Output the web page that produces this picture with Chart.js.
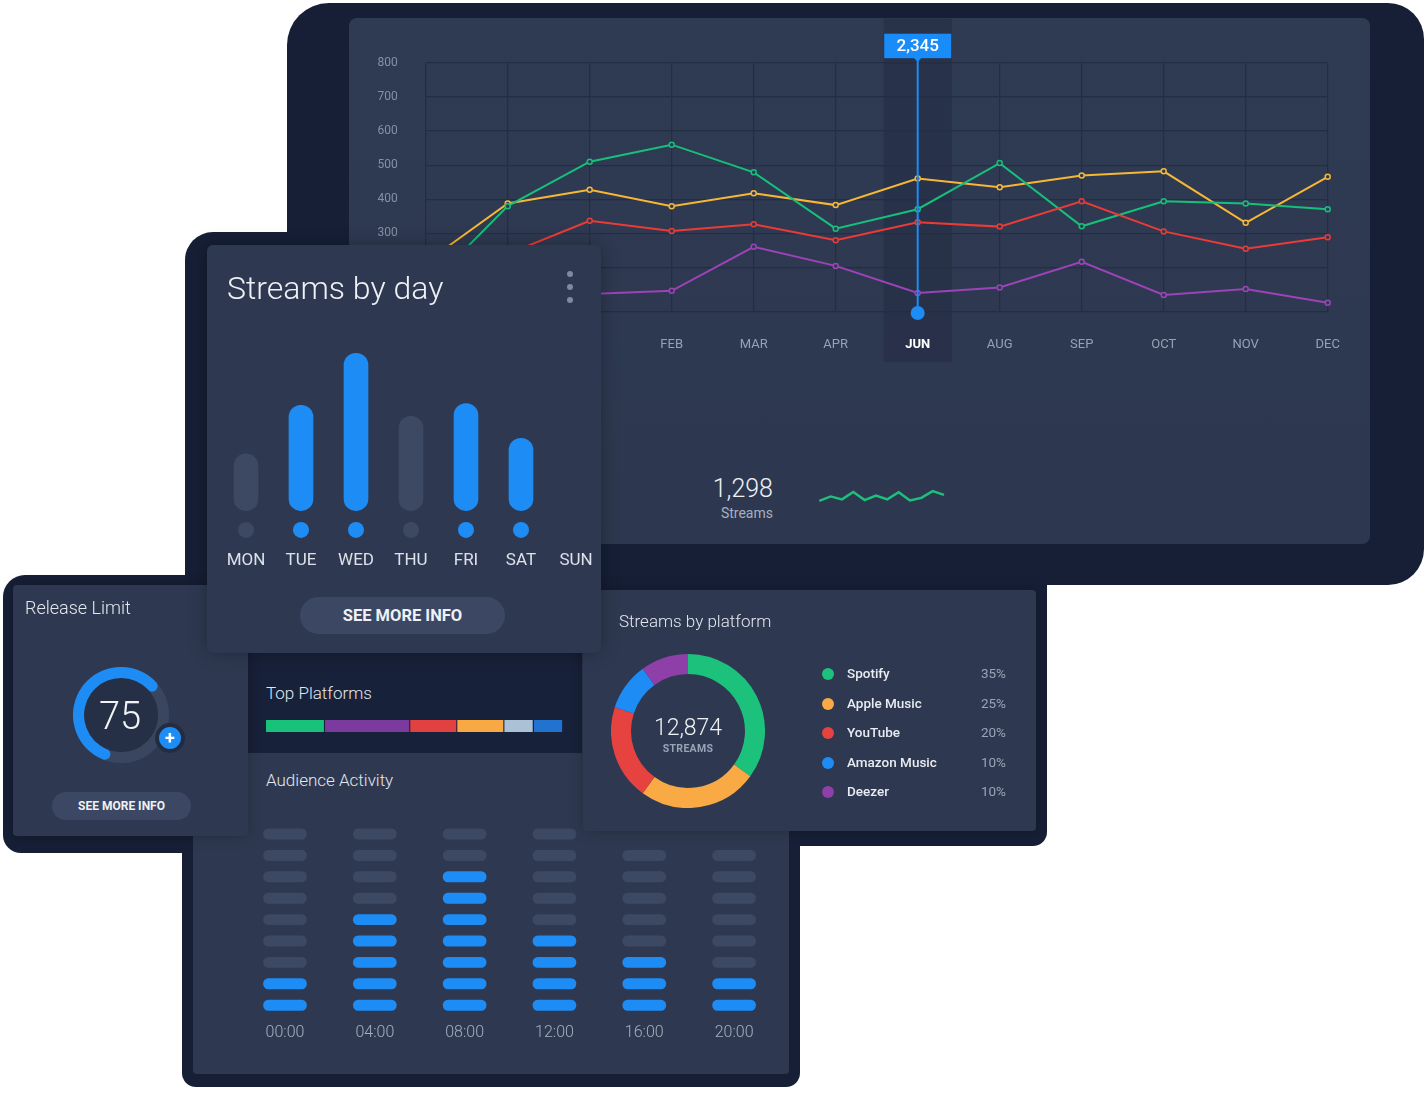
<!DOCTYPE html>
<html><head><meta charset="utf-8">
<script src="https://cdn.jsdelivr.net/npm/chart.js@4.4.1/dist/chart.umd.min.js"></script>
<style>
html,body{margin:0;padding:0;background:#fff;width:1424px;height:1105px;overflow:hidden;font-family:Roboto,"Open Sans",sans-serif;}
.dark{position:absolute;background:#161f36;z-index:0;}
.card{position:absolute;background:#2e3951;}
.t{position:absolute;white-space:nowrap;color:#e3e7ee;font-weight:300;line-height:1;transform:translateY(-50%);}
.btn{position:absolute;background:#3c4863;color:#eef1f5;font-weight:700;display:flex;align-items:center;justify-content:center;}
canvas{position:absolute;}
</style></head><body>

<!-- dark backdrop -->
<div class="dark" style="left:287px;top:3px;width:1137px;height:582px;border-radius:42px 36px 36px 0;"></div>
<div class="dark" style="left:185px;top:232px;width:500px;height:370px;border-radius:28px 0 0 0;"></div>
<div class="dark" style="left:3px;top:575px;width:260px;height:278px;border-radius:22px 0 0 18px;"></div>
<div class="dark" style="left:182px;top:600px;width:618px;height:487px;border-radius:0 0 14px 14px;"></div>
<div class="dark" style="left:560px;top:560px;width:487px;height:286px;border-radius:0 0 14px 0;"></div>

<!-- P1 top chart panel -->
<div class="card" style="left:349px;top:18px;width:1021px;height:526px;border-radius:8px;z-index:1;background:linear-gradient(180deg,#2f3a53,#2d3850);"></div>
<canvas id="lineChart" width="1021" height="344" style="left:349px;top:18px;width:1021px;height:344px;z-index:2;"></canvas>
<div class="t" style="right:651px;top:488px;font-size:25px;color:#eef1f5;z-index:2;">1,298</div>
<div class="t" style="right:651px;top:513px;font-size:14px;font-weight:400;color:#a7afbf;z-index:2;">Streams</div>
<canvas id="spark" width="129" height="27" style="left:817px;top:482px;width:129px;height:27px;z-index:2;"></canvas>

<!-- P4 audience activity -->
<div class="card" style="left:193px;top:653px;width:596px;height:421px;border-radius:4px;z-index:3;"></div>
<div class="t" style="left:266px;top:780px;font-size:17px;z-index:4;">Audience Activity</div>
<canvas id="audience" width="560" height="243" style="left:230px;top:810px;width:560px;height:243px;z-index:4;"></canvas>

<!-- P5 top platforms -->
<div class="card" style="left:248px;top:653px;width:334px;height:100px;background:#18213a;z-index:5;"></div>
<div class="t" style="left:266px;top:693px;font-size:17px;z-index:6;">Top Platforms</div>
<canvas id="topPlat" width="297" height="12" style="left:266px;top:720px;width:297px;height:12px;z-index:6;"></canvas>

<!-- P6 streams by platform -->
<div class="card" style="left:583px;top:590px;width:453px;height:241px;border-radius:4px;z-index:7;box-shadow:0 0 14px rgba(0,0,0,0.25);"></div>
<div class="t" style="left:619px;top:621px;font-size:17px;z-index:8;">Streams by platform</div>
<canvas id="donut" width="154" height="154" style="left:611px;top:654px;width:154px;height:154px;z-index:8;"></canvas>
<div class="t" style="left:588px;width:200px;text-align:center;top:727px;font-size:23px;color:#eef1f5;z-index:8;">12,874</div>
<div class="t" style="left:588px;width:200px;text-align:center;top:749px;font-size:10.5px;font-weight:700;color:#9aa3b6;letter-spacing:0.3px;z-index:8;">STREAMS</div>
<div id="legend"></div>

<!-- P3 release limit -->
<div class="card" style="left:13px;top:585px;width:235px;height:251px;border-radius:4px;z-index:9;box-shadow:0 0 14px rgba(0,0,0,0.25);"></div>
<div class="t" style="left:25px;top:608px;font-size:18px;z-index:10;">Release Limit</div>
<div style="position:absolute;left:73px;top:667px;width:74px;height:74px;border:11px solid #3a4660;border-radius:50%;z-index:10;"></div>
<div style="position:absolute;left:84px;top:678px;width:74px;height:74px;background:#252f45;border-radius:50%;z-index:10;"></div>
<canvas id="gauge" width="96" height="96" style="left:73px;top:667px;width:96px;height:96px;z-index:10;"></canvas>
<div class="t" style="left:70px;width:100px;text-align:center;top:716px;font-size:38px;color:#f1f3f7;z-index:10;">75</div>
<div style="position:absolute;left:155px;top:723px;width:22px;height:22px;border:4px solid #232c41;border-radius:50%;background:#1e8cf5;z-index:10;color:#fff;font-weight:700;font-size:18px;line-height:22px;text-align:center;">+</div>
<div class="btn" style="left:52px;top:792px;width:139px;height:28px;border-radius:14px;font-size:12px;z-index:10;">SEE MORE INFO</div>

<!-- P2 streams by day -->
<div class="card" style="left:207px;top:245px;width:394px;height:408px;border-radius:6px;z-index:11;box-shadow:0 0 18px rgba(0,0,0,0.3);"></div>
<div class="t" style="left:227px;top:288px;font-size:32px;color:#eef1f5;z-index:12;">Streams by day</div>
<div style="position:absolute;left:567px;top:271px;width:6px;height:6px;border-radius:50%;background:#7d8aa0;z-index:12;"></div>
<div style="position:absolute;left:567px;top:284px;width:6px;height:6px;border-radius:50%;background:#7d8aa0;z-index:12;"></div>
<div style="position:absolute;left:567px;top:297px;width:6px;height:6px;border-radius:50%;background:#7d8aa0;z-index:12;"></div>
<canvas id="days" width="430" height="262" style="left:200px;top:320px;width:430px;height:262px;z-index:12;"></canvas>
<div class="btn" style="left:300px;top:597px;width:205px;height:37px;border-radius:19px;font-size:16.5px;z-index:12;">SEE MORE INFO</div>

<script>
// ---------- data ----------
const months = ['NOV','DEC','JAN','FEB','MAR','APR','JUN','AUG','SEP','OCT','NOV','DEC'];
const spotifyMonthly = [137, 380, 510, 560, 479, 314, 371, 506, 321, 394, 388, 371];
const appleMonthly   = [215, 388, 428, 380, 418, 383, 461, 435, 470, 482, 331, 466];
const youtubeMonthly = [200, 240, 337, 307, 327, 280, 333, 320, 394, 306, 255, 289];
const deezerMonthly  = [110, 115, 123, 132, 261, 205, 126, 142, 217, 120, 137, 97];
const highlightIndex = 6;
const highlightLabel = '2,345';

const sparkValues = [13.3, 23.3, 16.7, 33.3, 15, 25.3, 16.7, 32.7, 14.3, 20, 35.3, 26.7];

const dayLabels = ['MON','TUE','WED','THU','FRI','SAT','SUN'];
const dayValues = [36, 67, 100, 60, 68, 46, null];
const dayActive = [false, true, true, false, true, true, false];

const gaugeArc = [61, 39];

const topShares = [20, 29, 16, 16, 10, 10];
const topColors = ['#19c27b','#7b3a9e','#e24141','#f8a943','#aac1d6','#2272d0'];

const hourLabels = ['00:00','04:00','08:00','12:00','16:00','20:00'];
const hourLevels = [9, 9, 9, 9, 8, 8];
const hourActive = [2, 5, 7, 4, 3, 2];

const platforms = ['Spotify','Apple Music','YouTube','Amazon Music','Deezer'];
const platformShares = [35, 25, 20, 10, 10];
const platformColors = ['#1cc27c','#f9aa45','#e64240','#1e8cf5','#8e3fa8'];

// ---------- styles ----------
const BLUE = '#1e8cf5', GREY = '#3d4963';
const base = {responsive:false, animation:false, events:[], plugins:{legend:{display:false}, tooltip:{enabled:false}}};

// ---------- top line chart ----------
const hl = {
  id:'hl',
  beforeDraw(chart){
    const {ctx, chartArea:a, scales:{x}} = chart;
    const px = x.getPixelForValue(highlightIndex);
    ctx.save(); ctx.fillStyle = 'rgba(18,24,40,0.22)';
    ctx.fillRect(px-34, a.top-44, 68, a.bottom-a.top+94); ctx.restore();
  },
  afterDatasetsDraw(chart){
    const {ctx, chartArea:a, scales:{x}} = chart;
    const px = x.getPixelForValue(highlightIndex);
    ctx.save();
    ctx.strokeStyle = BLUE; ctx.lineWidth = 2;
    ctx.beginPath(); ctx.moveTo(px, a.top-5); ctx.lineTo(px, a.bottom); ctx.stroke();
    ctx.fillStyle = BLUE; ctx.beginPath(); ctx.arc(px, a.bottom+1, 7, 0, Math.PI*2); ctx.fill();
    ctx.fillStyle = '#1a8cf9';
    ctx.fillRect(px-33.5, a.top-29, 67, 24.5);
    ctx.beginPath(); ctx.moveTo(px-4, a.top-5); ctx.lineTo(px+4, a.top-5); ctx.lineTo(px, a.top-1); ctx.fill();
    ctx.fillStyle = '#ffffff'; ctx.font = '500 17px Roboto'; ctx.textAlign = 'center'; ctx.textBaseline = 'middle';
    ctx.fillText(highlightLabel, px, a.top-16);
    ctx.restore();
  }
};
function lineDs(data, color){
  return {data, borderColor:color, borderWidth:2, tension:0, pointRadius:2.5, pointBorderWidth:1.5,
          pointBackgroundColor:'#2e3951', pointBorderColor:color};
}
new Chart(document.getElementById('lineChart'), {
  type:'line',
  data:{labels:months, datasets:[
    lineDs(deezerMonthly,'#9c43b8'),
    lineDs(youtubeMonthly,'#ea3b36'),
    lineDs(spotifyMonthly,'#16c07a'),
    lineDs(appleMonthly,'#f7b733')
  ]},
  options:{...base,
    layout:{padding:{left:16.7, right:42.3, top:44.7, bottom:0}},
    scales:{
      x:{grid:{color:'#242e43', lineWidth:1.2, drawTicks:false}, border:{display:false},
         ticks:{padding:25, autoSkip:false, maxRotation:0,
                color:c=>c.index===highlightIndex?'#ffffff':'#98a1b4',
                font:c=>({size:13, weight:c.index===highlightIndex?'bold':'normal', family:'Roboto'})},
         afterFit(s){s.height=50;}},
      y:{min:70, max:800, grid:{color:'#242e43', lineWidth:1.2, drawTicks:false}, border:{display:false},
         ticks:{stepSize:100, padding:28, color:'#8690a5', font:{size:12, family:'Roboto'}},
         afterBuildTicks(s){s.ticks = s.ticks.filter(t=>t.value!==100);},
         afterFit(s){s.width=60;}}
    }
  },
  plugins:[hl]
});

// ---------- sparkline ----------
new Chart(document.getElementById('spark'), {
  type:'line',
  data:{labels:sparkValues.map((_,i)=>i), datasets:[{data:sparkValues, borderColor:'#1cc27c', borderWidth:2.4, pointRadius:0, tension:0}]},
  options:{...base, layout:{padding:{left:2.3,right:2,top:2.7,bottom:2.3}}, scales:{x:{display:false}, y:{display:false}}}
});

// ---------- streams by day ----------
const dotLevel = -12.3;
new Chart(document.getElementById('days'), {
  data:{labels:dayLabels, datasets:[
    {type:'line', data:dayValues.map(v=>v==null?null:dotLevel), showLine:false, pointRadius:8, pointBorderWidth:0,
     pointBackgroundColor:dayActive.map(a=>a?BLUE:GREY), order:0},
    {type:'bar', data:dayValues, backgroundColor:dayActive.map(a=>a?BLUE:GREY), borderRadius:12, borderSkipped:false, barThickness:24, order:1}
  ]},
  options:{...base,
    layout:{padding:{left:18.5, right:26.5, top:17.6, bottom:0}},
    scales:{
      x:{grid:{display:false, drawTicks:false}, border:{display:false}, ticks:{color:'#dde1e9', font:{size:17, family:'Roboto'}, padding:9, autoSkip:false, maxRotation:0},
         afterFit(s){s.height=40;}},
      y:{display:false, min:-20, max:110}
    }
  }
});

// ---------- gauge ----------
new Chart(document.getElementById('gauge'), {
  type:'doughnut',
  data:{datasets:[{data:gaugeArc, backgroundColor:[BLUE,'rgba(0,0,0,0)'], borderWidth:0, borderRadius:[6,0]}]},
  options:{...base, rotation:195, cutout:'77%'}
});

// ---------- top platforms ----------
const topSum = topShares.reduce((a,b)=>a+b,0);
new Chart(document.getElementById('topPlat'), {
  type:'bar',
  data:{labels:[''], datasets:topShares.map((v,i)=>({data:[v], backgroundColor:topColors[i], borderColor:'#18213a',
        borderWidth:{right:1.2,left:0,top:0,bottom:0}, borderSkipped:false, barPercentage:1, categoryPercentage:1}))},
  options:{...base, indexAxis:'y', layout:{padding:0},
    scales:{x:{stacked:true, display:false, min:0, max:topSum}, y:{stacked:true, display:false}}}
});

// ---------- audience activity ----------
const maxLevels = Math.max(...hourLevels);
const audDatasets = [];
for (let r = 0; r < maxLevels; r++) {
  audDatasets.push({
    data: hourLabels.map((_,c)=> r < hourLevels[c] ? [r-0.24, r+0.24] : null),
    backgroundColor: hourLabels.map((_,c)=> r < hourActive[c] ? BLUE : GREY),
    borderRadius:6, borderSkipped:false, barThickness:43, grouped:false
  });
}
new Chart(document.getElementById('audience'), {
  type:'bar',
  data:{labels:hourLabels, datasets:audDatasets},
  options:{...base,
    layout:{padding:{left:10.1, right:11, top:11.2, bottom:0}},
    scales:{
      x:{grid:{display:false, drawTicks:false}, border:{display:false}, ticks:{color:'#a6aebe', font:{size:16, family:'Roboto', weight:'300'}, padding:5},
         afterFit(s){s.height=35;}},
      y:{display:false, min:-0.6, max:8.6}
    }
  }
});

// ---------- streams by platform ----------
new Chart(document.getElementById('donut'), {
  type:'doughnut',
  data:{labels:platforms, datasets:[{data:platformShares, backgroundColor:platformColors, borderWidth:0}]},
  options:{...base, cutout:'74%'}
});
const legend = document.getElementById('legend');
platforms.forEach((p,i)=>{
  const cy = 674 + i*29.5;
  legend.insertAdjacentHTML('beforeend',
    `<div style="position:absolute;left:822px;top:${cy-6}px;width:12px;height:12px;border-radius:50%;background:${platformColors[i]};z-index:8;"></div>
     <div class="t" style="left:847px;top:${cy}px;font-size:13.5px;font-weight:500;color:#e9ecf1;z-index:8;">${p}</div>
     <div class="t" style="right:${1424-1006}px;top:${cy}px;font-size:13.5px;font-weight:400;color:#9ba4b6;z-index:8;">${platformShares[i]}%</div>`);
});
</script>
</body></html>
